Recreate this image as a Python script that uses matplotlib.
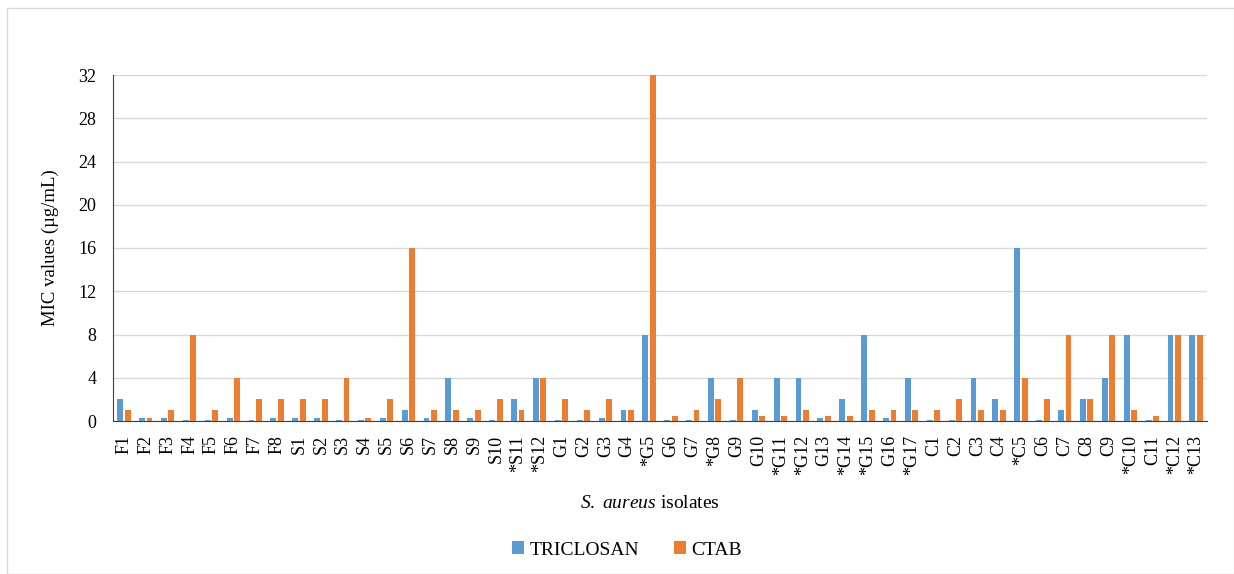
import matplotlib
matplotlib.use("Agg")
import matplotlib.pyplot as plt
import numpy as np
from matplotlib.patches import Rectangle

categories = ["F1","F2","F3","F4","F5","F6","F7","F8",
              "S1","S2","S3","S4","S5","S6","S7","S8","S9","S10","*S11","*S12",
              "G1","G2","G3","G4","*G5","G6","G7","*G8","G9","G10","*G11","*G12","G13","*G14","*G15","G16","*G17",
              "C1","C2","C3","C4","*C5","C6","C7","C8","C9","*C10","C11","*C12","*C13"]
triclosan = [2,0.25,0.25,0.125,0.125,0.25,0.125,0.25,
             0.25,0.25,0.125,0.125,0.25,1,0.25,4,0.25,0.125,2,4,
             0.125,0.125,0.25,1,8,0.125,0.125,4,0.125,1,4,4,0.25,2,8,0.25,4,
             0.125,0.125,4,2,16,0.125,1,2,4,8,0.125,8,8]
ctab = [1,0.25,1,8,1,4,2,2,
        2,2,4,0.25,2,16,1,1,1,2,1,4,
        2,1,2,1,32,0.5,1,2,4,0.5,0.5,1,0.5,0.5,1,1,1,
        1,2,1,1,4,2,8,2,8,1,0.5,8,8]
yticks = [0,4,8,12,16,20,24,28,32]

plt.rcParams['font.family'] = ['Liberation Serif', 'DejaVu Serif']
plt.rcParams['mathtext.fontset'] = 'custom'
plt.rcParams['mathtext.it'] = 'Liberation Serif:italic'
plt.rcParams['mathtext.rm'] = 'Liberation Serif'

fig = plt.figure(figsize=(12.34, 5.74), dpi=100)
fig.patches.append(Rectangle((7/1234, 0), 1-7/1234, 1-8/574, transform=fig.transFigure,
                             fill=False, edgecolor='#d9d9d9', linewidth=1))
ax = fig.add_axes([113/1234, 1-421/574, (1207-113)/1234, (421-75)/574])

x = np.arange(len(categories))
w = 0.27
ax.bar(x - 0.17, triclosan, width=w, color='#5B9BD5', label='TRICLOSAN', zorder=3)
ax.bar(x + 0.17, ctab, width=w, color='#ED7D31', label='CTAB', zorder=3)

ax.set_xlim(-0.5, len(categories) - 0.5)
ax.set_ylim(0, 32)
ax.set_yticks(yticks)
ax.set_xticks(x)
ax.set_xticklabels(categories, rotation=90, fontsize=13)
ax.tick_params(axis='y', labelsize=13, length=0, pad=12)
ax.tick_params(axis='x', length=0, pad=10)
ax.yaxis.grid(True, color='#d9d9d9', linewidth=1, zorder=0)
for s in ['top', 'right']:
    ax.spines[s].set_visible(False)
ax.spines['left'].set_color('#404040')
ax.spines['bottom'].set_color('#404040')

ax.set_ylabel('MIC values (µg/mL)', fontsize=13.5, labelpad=14)
fig.text(650/1234, 1-503/574, r'$\it{S.\ aureus}$ isolates', fontsize=14, ha='center', va='center')
fig.legend(loc='center', bbox_to_anchor=(627/1234, 1-550/574), ncol=2, frameon=False,
           fontsize=14, handlelength=0.6, handleheight=0.6, columnspacing=1.8, handletextpad=0.3)

fig.savefig('out.png', dpi=100)
